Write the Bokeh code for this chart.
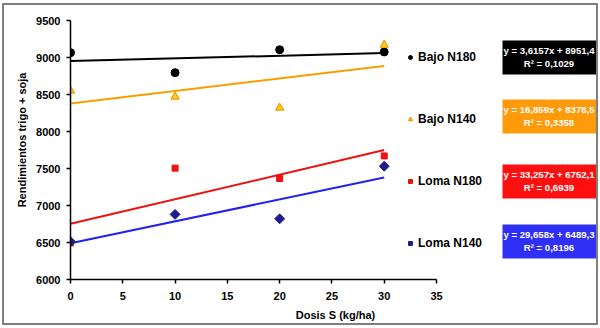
import math
from bokeh.plotting import figure
from bokeh.models import (Range1d, FixedTicker, BoxAnnotation, Label, Legend, LegendItem,
                          InlineStyleSheet)
from bokeh.embed import file_html
from bokeh.resources import INLINE

# ---- data ----
dosis = [0, 10, 20, 30]
bajo_n180 = [9065, 8795, 9105, 9075]
bajo_n140 = [8550, 8470, 8320, 9170]
loma_n180 = [6495, 7505, 7365, 7670]
loma_n140 = [6510, 6880, 6820, 7530]
series_names = ["Bajo N180", "Bajo N140", "Loma N180", "Loma N140"]
slopes = [3.6157, 16.859, 33.257, 29.658]
intercepts = [8951.4, 8378.5, 6752.1, 6489.3]
equations = ["y = 3,6157x + 8951,4", "y = 16,859x + 8378,5",
             "y = 33,257x + 6752,1", "y = 29,658x + 6489,3"]
r2_texts = ["R\u00b2 = 0,1029", "R\u00b2 = 0,3358", "R\u00b2 = 0,6939", "R\u00b2 = 0,8196"]
x_ticks = [0, 5, 10, 15, 20, 25, 30, 35]
y_ticks = [6000, 6500, 7000, 7500, 8000, 8500, 9000, 9500]

FONT = "Liberation Sans"
W, H = 600, 328
# axis extent in canvas pixels
AX_L, AX_R, AX_T, AX_B = 70, 436, 20, 279
XMIN, XMAX, YMIN, YMAX = 0, 35, 6000, 9500
kx = (AX_R - AX_L) / (XMAX - XMIN)
ky = (AX_B - AX_T) / (YMAX - YMIN)

def dx(px):
    return XMIN + (px - AX_L) / kx

def dy(py):
    return YMIN + (AX_B - py) / ky

# frame extends to right and top edges so annotations are not clipped
p = figure(width=W, height=H, output_backend="svg", toolbar_location=None,
           x_range=Range1d(XMIN, dx(W)), y_range=Range1d(YMIN, dy(0)),
           min_border_left=AX_L, min_border_right=0,
           min_border_top=0, min_border_bottom=H - AX_B)
p.xgrid.visible = False
p.ygrid.visible = False
p.outline_line_color = None
p.background_fill_color = "white"
p.border_fill_color = "white"
p.stylesheets = [InlineStyleSheet(css="""
:host { position: relative; }
:host::after {
  content: ""; position: absolute; left: 2px; top: 3px; width: 592px; height: 318px;
  border: 2px solid #7f7f7f; pointer-events: none; z-index: 1000;
}
""")]

for ax in (p.xaxis[0], p.yaxis[0]):
    ax.axis_line_color = "black"
    ax.axis_line_width = 1.5
    ax.major_tick_line_color = "black"
    ax.major_tick_line_width = 1.5
    ax.major_tick_in = 0
    ax.major_tick_out = 4
    ax.minor_tick_line_color = None
    ax.major_label_text_font = FONT
    ax.major_label_text_font_style = "bold"
    ax.major_label_text_font_size = "11px"
    ax.major_label_text_color = "black"
    ax.axis_label_text_font = FONT
    ax.axis_label_text_font_style = "bold"
    ax.axis_label_text_font_size = "11px"
    ax.axis_label_text_color = "black"

p.xaxis.ticker = FixedTicker(ticks=x_ticks)
p.yaxis.ticker = FixedTicker(ticks=y_ticks)
p.xaxis.bounds = (XMIN, XMAX)
p.yaxis.bounds = (YMIN, YMAX)
p.xaxis.axis_label = "Dosis S (kg/ha)"
p.yaxis.axis_label = "Rendimientos trigo + soja"
p.xaxis.major_label_standoff = 8
p.yaxis.major_label_standoff = 6
p.xaxis.axis_label_standoff = 6
p.yaxis.axis_label_standoff = 5

line_colors = ["black", "#f5a000", "#ee1111", "#2222ee"]
box_colors = ["#000000", "#ff9a0a", "#ff1010", "#2f2ff5"]

# trend lines
x0, x1 = dosis[0], dosis[-1]
for s, b, c in zip(slopes, intercepts, line_colors):
    p.line([x0, x1], [b + s * x0, b + s * x1], line_color=c, line_width=2)

r_b180 = p.scatter(dosis, bajo_n180, marker="circle", size=8, fill_color="black", line_color="black")
r_b140 = p.scatter(dosis, bajo_n140, marker="triangle", size=8, fill_color="#ffd21a", line_color="#f59a00", line_width=1.2)
r_l180 = p.scatter(dosis, loma_n180, marker="square", size=6, fill_color="#ee1111", line_color="#ee1111")
r_l140 = p.scatter(dosis, loma_n140, marker="square", angle=math.pi / 4, size=7, fill_color="#1c1c8c", line_color="#1c1c8c")

legend = Legend(items=[LegendItem(label=n, renderers=[r]) for n, r in
                       zip(series_names, [r_b180, r_b140, r_l180, r_l140])],
                location=(335, 26), orientation="vertical",
                border_line_color=None, background_fill_alpha=0,
                padding=0, margin=0, glyph_width=10, glyph_height=20,
                label_height=20, label_standoff=3, spacing=42,
                label_text_font=FONT, label_text_font_style="bold",
                label_text_font_size="12px", label_text_color="black")
p.add_layout(legend, "center")

# equation boxes
box_tops = [40, 99, 164, 224]
for top, col, eq, r2 in zip(box_tops, box_colors, equations, r2_texts):
    p.add_layout(BoxAnnotation(left=dx(502), right=dx(596), top=dy(top), bottom=dy(top + 34),
                               fill_color=col, fill_alpha=1, line_color=None))
    for txt, off in ((eq, 10), (r2, 23)):
        p.add_layout(Label(x=dx(548.5), y=dy(top + off), text=txt,
                           text_align="center", text_baseline="middle",
                           text_font=FONT, text_font_style="bold", text_font_size="9.6px",
                           text_color="white"))

open("out.html", "w").write(file_html(p, INLINE))
